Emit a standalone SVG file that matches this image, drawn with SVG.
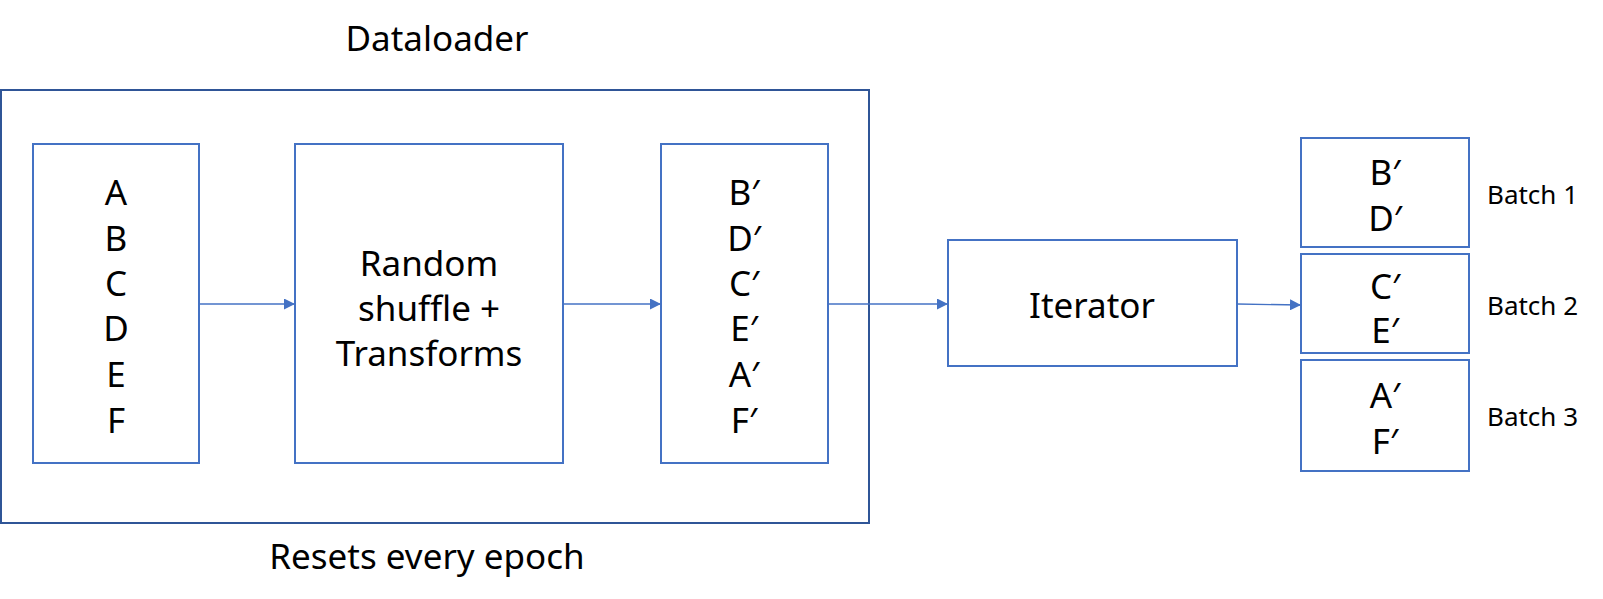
<svg xmlns="http://www.w3.org/2000/svg" width="1603" height="599" viewBox="0 0 1603 599">
<style>
.box{fill:#fff;stroke:#4472C4;stroke-width:2}
.outer{fill:none;stroke:#2F5597;stroke-width:2}
.t{font-family:"Noto Sans","Open Sans","Liberation Sans",sans-serif;fill:#000;text-anchor:middle;dominant-baseline:central}
.big{font-size:35px}
.lbl{font-size:26px;text-anchor:start}
.conn{stroke:#4472C4;stroke-width:1.3;fill:none;marker-end:url(#ah)}
</style>
<defs>
<marker id="ah" viewBox="0 0 10 10" refX="10" refY="5" markerWidth="11" markerHeight="11" markerUnits="userSpaceOnUse" orient="auto">
<path d="M0,0 L10,5 L0,10 z" fill="#4472C4"/>
</marker>
</defs>
<rect fill="#fff" width="1603" height="599"/>
<g id="dataloader">
<rect class="outer" x="1" y="90" width="868" height="433"/>
<text class="t big" x="437" y="37">Dataloader</text>
<text class="t big" x="427" y="555">Resets every epoch</text>
</g>
<g id="input">
<rect class="box" x="33" y="144" width="166" height="319"/>
<text class="t big" x="116" y="191">A</text>
<text class="t big" x="116" y="237">B</text>
<text class="t big" x="116" y="282">C</text>
<text class="t big" x="116" y="327">D</text>
<text class="t big" x="116" y="373">E</text>
<text class="t big" x="116" y="419">F</text>
</g>
<g id="shuffle">
<rect class="box" x="295" y="144" width="268" height="319"/>
<text class="t big" x="429" y="262">Random</text>
<text class="t big" x="429" y="307">shuffle +</text>
<text class="t big" x="429" y="352">Transforms</text>
</g>
<g id="shuffled">
<rect class="box" x="661" y="144" width="167" height="319"/>
<text class="t big" x="744" y="191">B′</text>
<text class="t big" x="744" y="237">D′</text>
<text class="t big" x="744" y="282">C′</text>
<text class="t big" x="744" y="327">E′</text>
<text class="t big" x="744" y="373">A′</text>
<text class="t big" x="744" y="419">F′</text>
</g>
<g id="iterator">
<rect class="box" x="948" y="240" width="289" height="126"/>
<text class="t big" x="1092" y="304">Iterator</text>
</g>
<g id="batch1">
<rect class="box" x="1301" y="138" width="168" height="109"/>
<text class="t big" x="1385" y="171">B′</text>
<text class="t big" x="1385" y="217">D′</text>
<text class="t lbl" x="1487" y="194">Batch 1</text>
</g>
<g id="batch2">
<rect class="box" x="1301" y="254" width="168" height="99"/>
<text class="t big" x="1385" y="285">C′</text>
<text class="t big" x="1385" y="329">E′</text>
<text class="t lbl" x="1487" y="305">Batch 2</text>
</g>
<g id="batch3">
<rect class="box" x="1301" y="360" width="168" height="111"/>
<text class="t big" x="1385" y="394">A′</text>
<text class="t big" x="1385" y="440">F′</text>
<text class="t lbl" x="1487" y="416">Batch 3</text>
</g>
<g id="connectors">
<line class="conn" x1="199" y1="304" x2="295" y2="304"/>
<line class="conn" x1="563" y1="304" x2="661" y2="304"/>
<line class="conn" x1="828" y1="304" x2="948" y2="304"/>
<line class="conn" x1="1237" y1="304" x2="1301" y2="305"/>
</g>
</svg>
